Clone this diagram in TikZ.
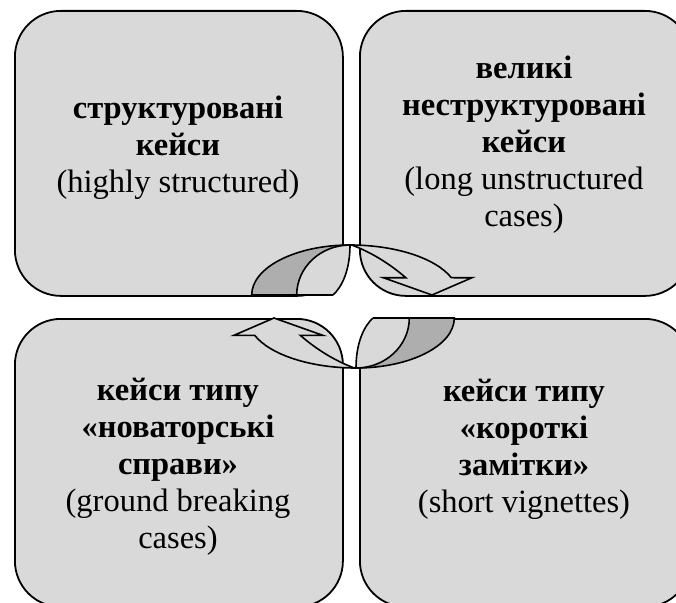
\documentclass[tikz,border=0pt]{standalone}
\usepackage{fontspec}
\setmainfont{Liberation Serif}
\definecolor{boxgray}{RGB}{217,217,217}
\definecolor{backgray}{RGB}{174,174,174}
\tikzset{
  casebox/.style={draw=black, fill=boxgray, rounded corners=46pt, line width=1.8pt,
                  inner sep=0pt, anchor=north west},
  casetext/.style={align=center, inner sep=0pt, font=\fontsize{32.5}{37}\selectfont},
  arrowline/.style={draw=black, line width=1.6pt, line join=miter},
}
\newcommand{\twistarrow}{%
  \fill[boxgray] (-17,0) .. controls (-8,8) and (0,25) .. (0,50)
    arc[start angle=90,end angle=20.25,x radius=108,y radius=50]
    -- (122,17.3) -- (82,0) -- (33.3,17.3) -- (55.7,17.3)
    .. controls (47,25) and (28,40) .. (3,49.5) -- (0,50)
    arc[start angle=90,end angle=180,x radius=98.3,y radius=50] -- cycle;
  \fill[backgray] (-98.3,0)
    arc[start angle=180,end angle=90,x radius=98.3,y radius=50]
    arc[start angle=90,end angle=180,x radius=53.3,y radius=50] -- cycle;
  \draw[arrowline] (-17,0) -- (-98.3,0)
    arc[start angle=180,end angle=90,x radius=98.3,y radius=50]
    arc[start angle=90,end angle=20.25,x radius=108,y radius=50]
    -- (122,17.3) -- (82,0) -- (33.3,17.3) -- (55.7,17.3)
    .. controls (47,25) and (28,40) .. (3,49.5);
  \draw[arrowline] (-53.3,0) arc[start angle=180,end angle=90,x radius=53.3,y radius=50];
  \draw[arrowline] (-17,0) .. controls (-8,8) and (0,25) .. (0,50);
}
\begin{document}
\begin{tikzpicture}[x=1pt,y=-1pt]
  \fill[white] (0,0) rectangle (676,602);
  \useasboundingbox (0,0) rectangle (676,602);
  % boxes
  \node[casebox, minimum width=328pt, minimum height=285pt] (b1) at (14,10) {};
  \node[casebox, minimum width=331pt, minimum height=285pt] (b2) at (359,10) {};
  \node[casebox, minimum width=328pt, minimum height=288pt] (b3) at (14,318) {};
  \node[casebox, minimum width=331pt, minimum height=288pt] (b4) at (359,318) {};
  % curved arrows
  \begin{scope}[shift={(350,295)}, yscale=-1]
    \twistarrow
  \end{scope}
  \begin{scope}[shift={(356,318)}, xscale=-1]
    \twistarrow
  \end{scope}
  % texts
  \node[casetext] (t1) at (178,147.5) {\textbf{структуровані}\\\textbf{кейси}\\(highly structured)};
  \node[casetext] (t2) at (524,145) {\textbf{великі}\\\textbf{неструктуровані}\\\textbf{кейси}\\(long unstructured\\cases)};
  \node[casetext] (t3) at (178,466.5) {\textbf{кейси типу}\\\textbf{«новаторські}\\\textbf{справи»}\\(ground breaking\\cases)};
  \node[casetext] (t4) at (524,449) {\textbf{кейси типу}\\\textbf{«короткі}\\\textbf{замітки»}\\(short vignettes)};
\end{tikzpicture}
\end{document}
